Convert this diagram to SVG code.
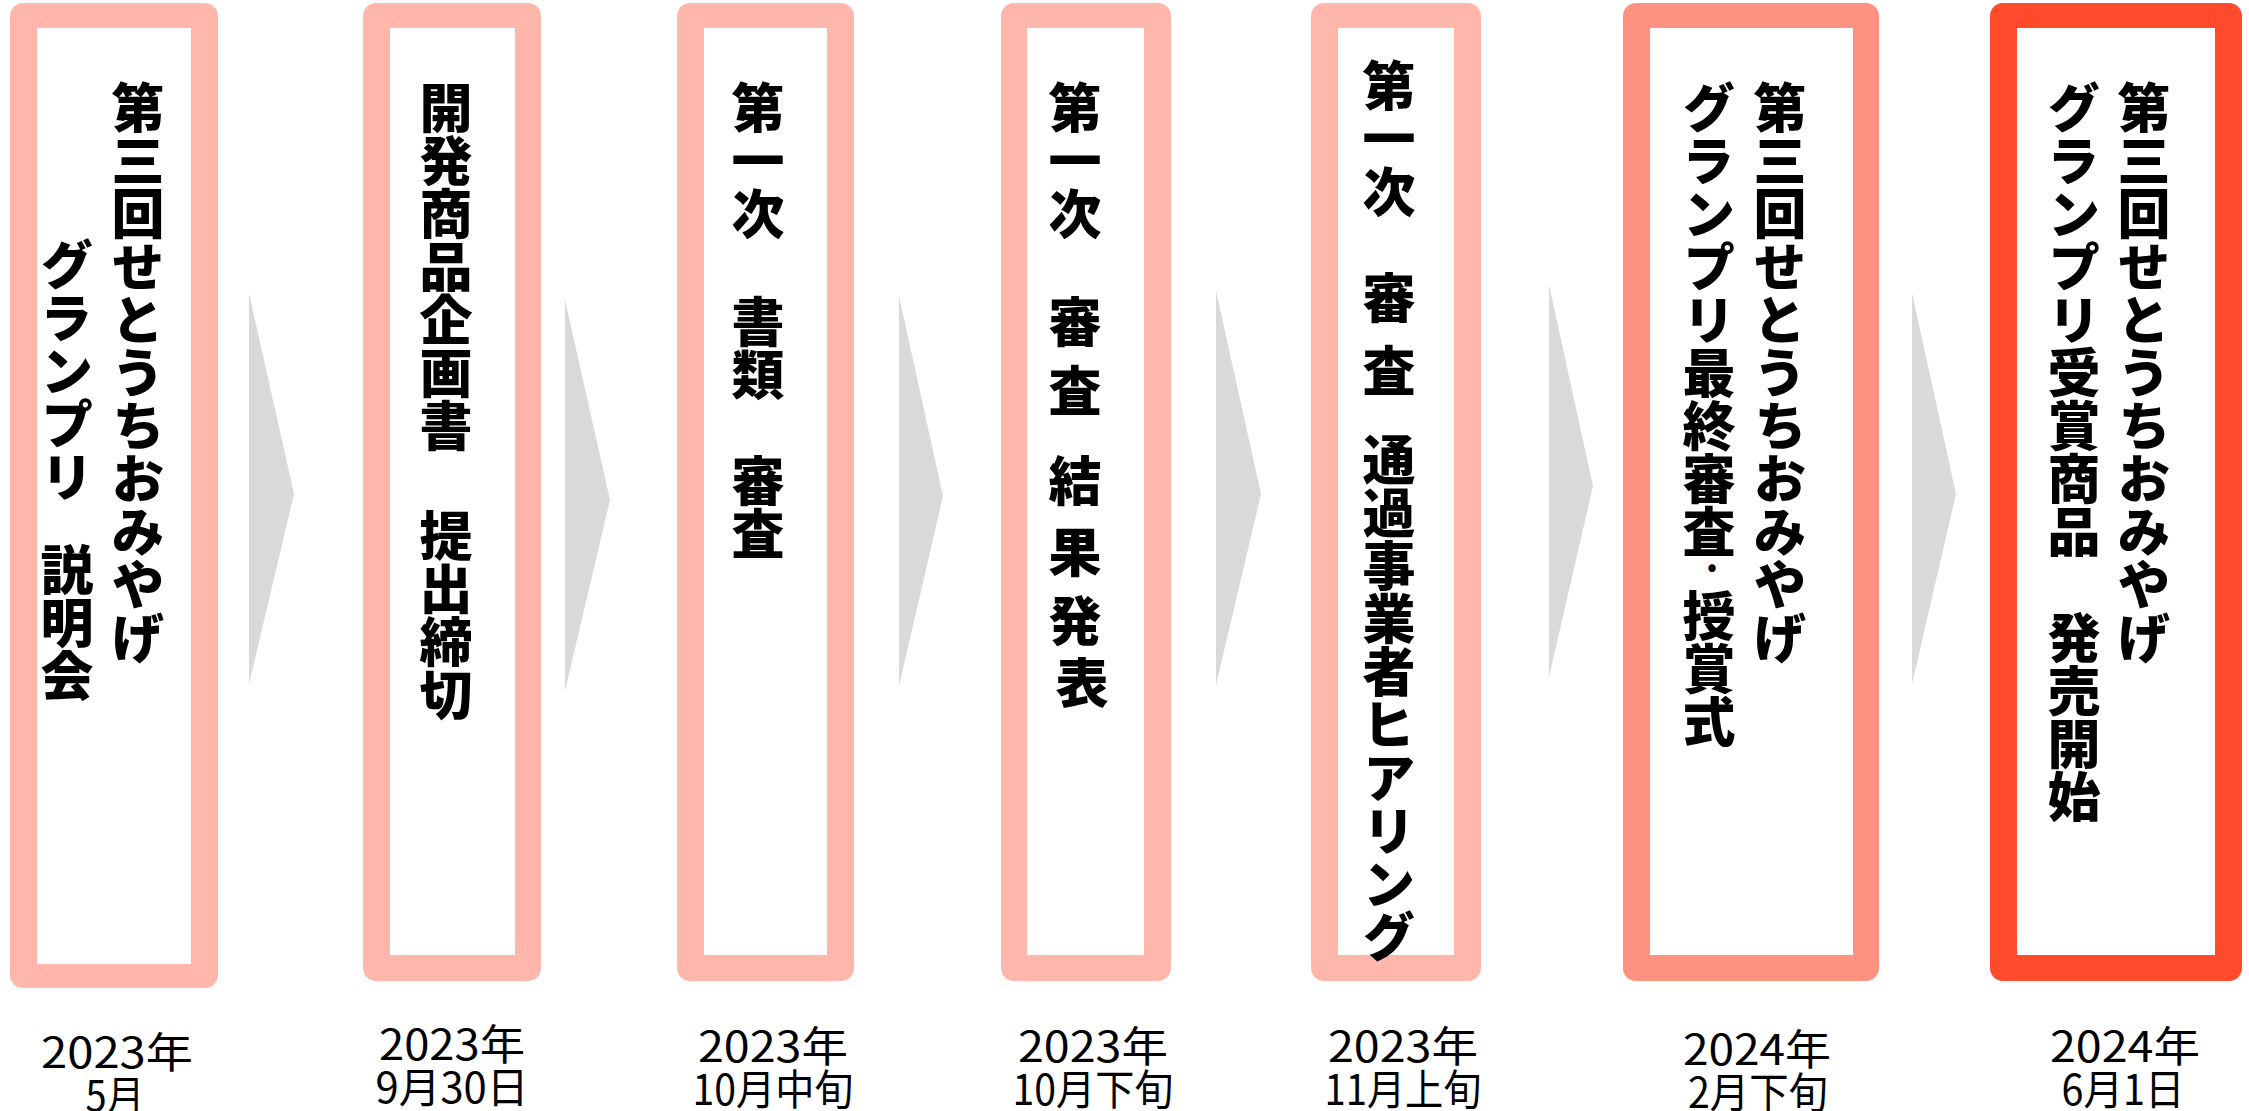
<svg xmlns="http://www.w3.org/2000/svg" width="2249" height="1111" viewBox="0 0 2249 1111">
<style>
  .bg { fill: #ffffff; }
  .frame-a { fill: #FFB7AC; }
  .frame-b { fill: #FF9180; }
  .frame-c { fill: #FF4B2B; }
  .inner { fill: #ffffff; }
  .arrow { fill: #D9D9D9; }
  .vt { font-family: "Noto Sans CJK JP", "Noto Sans", sans-serif; font-size: 53px; font-weight: 900; fill: #000000; writing-mode: vertical-rl; }
  .dot { font-family: "Noto Sans CJK JP", "Noto Sans", sans-serif; font-size: 40px; font-weight: 700; fill: #000000; text-anchor: middle; }
  .date { font-family: "Noto Sans CJK JP", "Noto Sans", sans-serif; font-size: 42px; font-weight: 400; fill: #000000; text-anchor: middle; }
</style>
<rect class="bg" x="0" y="0" width="2249" height="1111"/>

<g id="connectors">
  <polygon class="arrow" points="249,293 294,494 249,684"/>
  <polygon class="arrow" points="565,300 610,500 565,691"/>
  <polygon class="arrow" points="899,296 943,496 899,686"/>
  <polygon class="arrow" points="1216,291 1261,494 1216,685"/>
  <polygon class="arrow" points="1549,285 1593,486 1549,677"/>
  <polygon class="arrow" points="1912,293 1956,494 1912,684"/>
</g>

<g id="node1">
  <rect class="frame-a" x="10" y="3" width="208" height="985" rx="13"/>
  <rect class="inner" x="37" y="28" width="154" height="936"/>
  <text class="vt" x="138" y="81">第三回せとうちおみやげ</text>
  <text class="vt" x="67" y="238">グランプリ</text>
  <text class="vt" x="67" y="543">説明会</text>
  <text class="date" x="117" y="1068" textLength="152" lengthAdjust="spacingAndGlyphs">2023年</text>
  <text class="date" x="115" y="1111" textLength="59" lengthAdjust="spacingAndGlyphs">5月</text>
</g>

<g id="node2">
  <rect class="frame-a" x="363" y="3" width="178" height="978" rx="13"/>
  <rect class="inner" x="390" y="28" width="125" height="927"/>
  <text class="vt" x="446" y="81">開発商品企画書</text>
  <text class="vt" x="446" y="509">提出締切</text>
  <text class="date" x="452" y="1060" textLength="146" lengthAdjust="spacingAndGlyphs">2023年</text>
  <text class="date" x="452" y="1103" textLength="153" lengthAdjust="spacingAndGlyphs">9月30日</text>
</g>

<g id="node3">
  <rect class="frame-a" x="677" y="3" width="177" height="978" rx="13"/>
  <rect class="inner" x="704" y="28" width="123" height="927"/>
  <text class="vt" x="758" y="81">第一次</text>
  <text class="vt" x="758" y="295">書類</text>
  <text class="vt" x="758" y="454">審査</text>
  <text class="date" x="773" y="1062" textLength="150" lengthAdjust="spacingAndGlyphs">2023年</text>
  <text class="date" x="773" y="1105" textLength="161" lengthAdjust="spacingAndGlyphs">10月中旬</text>
</g>

<g id="node4">
  <rect class="frame-a" x="1001" y="3" width="170" height="978" rx="13"/>
  <rect class="inner" x="1027" y="28" width="117" height="927"/>
  <text class="vt" x="1075" y="81">第一次</text>
  <text class="vt" x="1075" y="295">審</text>
  <text class="vt" x="1075" y="364">査</text>
  <text class="vt" x="1075" y="454">結</text>
  <text class="vt" x="1075" y="525">果</text>
  <text class="vt" x="1075" y="594">発</text>
  <text class="vt" x="1082" y="656">表</text>
  <text class="date" x="1093" y="1062" textLength="150" lengthAdjust="spacingAndGlyphs">2023年</text>
  <text class="date" x="1093" y="1105" textLength="161" lengthAdjust="spacingAndGlyphs">10月下旬</text>
</g>

<g id="node5">
  <rect class="frame-a" x="1311" y="3" width="170" height="978" rx="13"/>
  <rect class="inner" x="1338" y="28" width="116" height="927"/>
  <text class="vt" x="1389" y="59">第一次</text>
  <text class="vt" x="1389" y="271">審</text>
  <text class="vt" x="1389" y="344">査</text>
  <text class="vt" x="1389" y="433">通過事業者ヒアリング</text>
  <text class="date" x="1403" y="1062" textLength="150" lengthAdjust="spacingAndGlyphs">2023年</text>
  <text class="date" x="1403" y="1105" textLength="157" lengthAdjust="spacingAndGlyphs">11月上旬</text>
</g>

<g id="node6">
  <rect class="frame-b" x="1623" y="3" width="256" height="978" rx="13"/>
  <rect class="inner" x="1650" y="28" width="203" height="927"/>
  <text class="vt" x="1780" y="81">第三回せとうちおみやげ</text>
  <text class="vt" x="1709" y="81">グランプリ最終審査</text>
  <text class="dot" x="1712" y="583">·</text>
  <text class="vt" x="1709" y="589">授賞式</text>
  <text class="date" x="1757" y="1065" textLength="148" lengthAdjust="spacingAndGlyphs">2024年</text>
  <text class="date" x="1758" y="1108" textLength="140" lengthAdjust="spacingAndGlyphs">2月下旬</text>
</g>

<g id="node7">
  <rect class="frame-c" x="1990" y="3" width="252" height="978" rx="13"/>
  <rect class="inner" x="2017" y="28" width="198" height="927"/>
  <text class="vt" x="2144" y="81">第三回せとうちおみやげ</text>
  <text class="vt" x="2074" y="81">グランプリ受賞商品　発売開始</text>
  <text class="date" x="2125" y="1062" textLength="150" lengthAdjust="spacingAndGlyphs">2024年</text>
  <text class="date" x="2123" y="1105" textLength="123" lengthAdjust="spacingAndGlyphs">6月1日</text>
</g>
</svg>
